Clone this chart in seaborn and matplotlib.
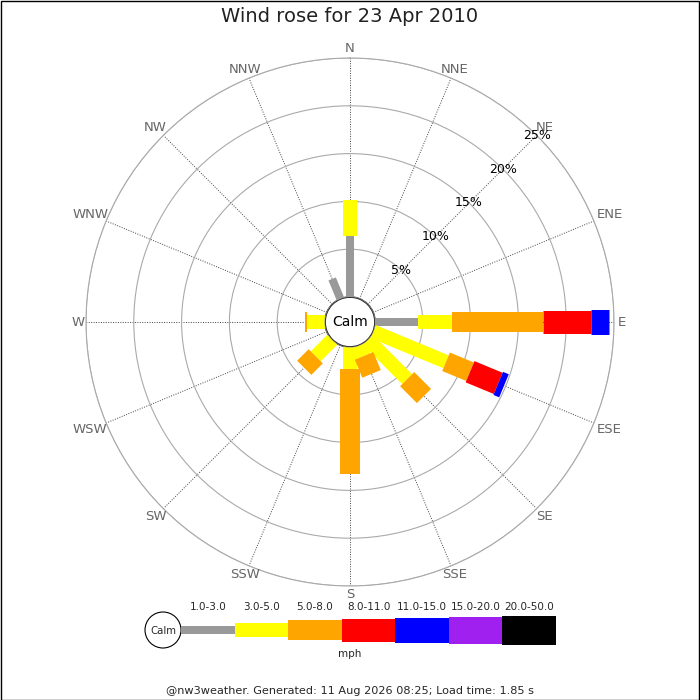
import numpy as np
import matplotlib
matplotlib.use("Agg")
import matplotlib.pyplot as plt
import seaborn as sns
from matplotlib.patches import Circle, Rectangle


# -------------------------------
# Data (percent of the day per direction and speed class)
# -------------------------------

directions = ["N", "NNE", "NE", "ENE", "E", "ESE", "SE", "SSE",
              "S", "SSW", "SW", "WSW", "W", "WNW", "NW", "NNW"]

speed_bins = ["1.0-3.0", "3.0-5.0", "5.0-8.0", "8.0-11.0",
              "11.0-15.0", "15.0-20.0", "20.0-50.0"]

pct_1_3 = [6.38, 0, 0, 0, 4.53, 0, 0, 0, 0, 0, 0, 0, 0, 0, 0, 2.26]
pct_3_5 = [3.77, 0, 0, 0, 3.49, 8.26, 5.84, 1.22, 2.30, 0, 2.46, 0, 1.91, 0, 0, 0]
pct_5_8 = [0, 0, 0, 0, 9.58, 2.72, 2.49, 2.04, 10.98, 0, 1.70, 0, 0.18, 0, 0, 0]
pct_8_11 = [0, 0, 0, 0, 4.96, 3.19, 0, 0, 0, 0, 0, 0, 0, 0, 0, 0]
pct_11_15 = [0, 0, 0, 0, 1.90, 0.65, 0, 0, 0, 0, 0, 0, 0, 0, 0, 0]
pct_15_20 = [0] * 16
pct_20_50 = [0] * 16

ring_values = [5, 10, 15, 20, 25]

title = "Wind rose for 23 Apr 2010"
footer = "@nw3weather. Generated: 11 Aug 2026 08:25; Load time: 1.85 s"


# -------------------------------
# Style
# -------------------------------

sns.set_theme(style="white")
plt.rcParams["font.family"] = ["DejaVu Sans"]

bin_colors = ["#999999", "#ffff00", "#ffa500", "#ff0000",
              "#0000ff", "#a020f0", "#000000"]
bar_px = [8, 14, 20, 23, 25, 27, 29]     # bar thickness in pixels
PT = 0.72                                 # points per pixel at dpi 100

all_bins = [pct_1_3, pct_3_5, pct_5_8, pct_8_11, pct_11_15, pct_15_20, pct_20_50]

# geometry in pixels
W = 700
cx, cy = 350, 322
R = 264
calm_px = 25
rmax = 25
rorigin = -rmax * calm_px / (R - calm_px)
px_per_pct = R / (rmax - rorigin)


fig = plt.figure(figsize=(7, 7), dpi=100)
fig.patch.set_facecolor("white")

ax = fig.add_axes([(cx - R) / W, (W - cy - R) / W, 2 * R / W, 2 * R / W],
                  projection="polar")
ax.set_theta_zero_location("N")
ax.set_theta_direction(-1)
ax.set_rorigin(rorigin)
ax.set_rlim(0, rmax)
ax.set_facecolor("white")

angles = np.deg2rad(np.arange(16) * 22.5)

# grid
ax.set_yticks(ring_values)
ax.set_yticklabels([])
ax.set_xticks(angles)
ax.set_xticklabels([])
ax.yaxis.grid(True, color="#aaaaaa", linewidth=0.8, linestyle="-")
ax.xaxis.grid(True, color="#444444", linewidth=0.7, linestyle=(0, (1, 1.5)))
ax.spines["polar"].set_color("#aaaaaa")
ax.spines["polar"].set_linewidth(0.8)
for name in ["inner", "start", "end"]:
    if name in ax.spines:
        ax.spines[name].set_visible(False)
ax.set_axisbelow(True)

# calm circle outline
full = np.linspace(0, 2 * np.pi, 200)
ax.plot(full, np.zeros_like(full), color="#999999", linewidth=0.8, zorder=5)
ax.text(0.5, 0.5, "Calm", transform=ax.transAxes, ha="center", va="center",
        fontsize=10, color="black", zorder=6)

# stacked bars, drawn class by class
base = np.zeros(16)
for k, values in enumerate(all_bins):
    vals = np.array(values, dtype=float)
    for i in range(16):
        if vals[i] > 0:
            ax.plot([angles[i], angles[i]], [base[i], base[i] + vals[i]],
                    color=bin_colors[k], linewidth=bar_px[k] * PT,
                    solid_capstyle="butt", zorder=3 + k * 0.01)
    base = base + vals

# ring labels along NE
for v in ring_values:
    ax.text(np.deg2rad(45), v, f"{v}%", ha="center", va="center",
            fontsize=9, color="black", zorder=7)

# direction labels
for i, d in enumerate(directions):
    th = angles[i]
    half_w = 4.3 * len(d)
    half_h = 5.0
    s, c = abs(np.sin(th)), abs(np.cos(th))
    edge = min(half_w / s if s > 1e-6 else 1e9, half_h / c if c > 1e-6 else 1e9)
    r_lab = rmax + (4 + edge) / px_per_pct
    ax.text(th, r_lab, d, ha="center", va="center", fontsize=9.5,
            color="#666666", clip_on=False)

# -------------------------------
# Title, legend, footer
# -------------------------------

fig.text(0.5, 1 - 16.5 / W, title, ha="center", va="center", fontsize=14,
         color="#222222")

lax = fig.add_axes([140 / W, (W - 662) / W, 420 / W, 62 / W])
lax.set_xlim(140, 560)
lax.set_ylim(662, 600)
lax.set_axis_off()

lax.add_patch(Circle((163, 630), 18, facecolor="white", edgecolor="black",
                     linewidth=0.8))
lax.text(163, 631, "Calm", ha="center", va="center", fontsize=7.3)

seg_start = 181
seg_len = (556 - seg_start) / len(speed_bins)
lefts = [seg_start + i * seg_len for i in range(len(speed_bins))]
lax.barh([630] * len(speed_bins), [seg_len] * len(speed_bins), left=lefts,
         height=bar_px, color=bin_colors, linewidth=0)
for left, lab in zip(lefts, speed_bins):
    lax.text(left + seg_len / 2, 607, lab, ha="center", va="center", fontsize=7.5)
lax.text(350, 654, "mph", ha="center", va="center", fontsize=7.5)

fig.text(0.5, 1 - 691 / W, footer, ha="center", va="center", fontsize=8.1)

# frame around the picture
fig.patches.append(Rectangle((0.5 / W, 0.5 / W), 1 - 1.5 / W, 1 - 1.5 / W,
                             transform=fig.transFigure, fill=False,
                             edgecolor="black", linewidth=1))

plt.savefig("out.png", dpi=100)
